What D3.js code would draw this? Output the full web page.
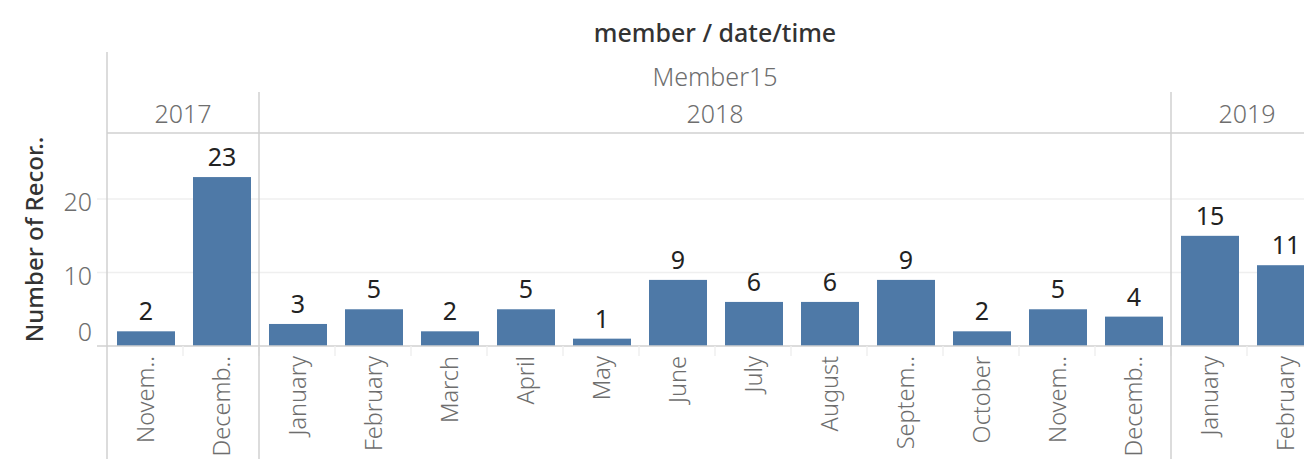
<!DOCTYPE html>
<html>
<head>
<meta charset="utf-8">
<script src="https://cdn.jsdelivr.net/npm/d3@7"></script>
<style>
  body { margin: 0; background: #fff; }
  text { font-family: "Noto Sans", "Open Sans", sans-serif; }
</style>
</head>
<body>
<svg id="chart"></svg>
<script>
// data
var years = ["2017", "2018", "2019"];
var monthYears = ["2017", "2017", "2018", "2018", "2018", "2018", "2018", "2018",
  "2018", "2018", "2018", "2018", "2018", "2018", "2019", "2019"];
var monthLabels = ["Novem..", "Decemb..", "January", "February", "March", "April", "May",
  "June", "July", "August", "Septem..", "October", "Novem..", "Decemb..", "January", "February"];
var counts = [2, 23, 3, 5, 2, 5, 1, 9, 6, 6, 9, 2, 5, 4, 15, 11];
var yTicks = [0, 10, 20];

var width = 1304, height = 459;
var paneLeft = 107, paneTop = 133, base = 346, colW = 76;
var fontSize = 25;

var svg = d3.select("#chart")
  .attr("width", width)
  .attr("height", height);

var col = d3.scaleBand()
  .domain(d3.range(counts.length))
  .range([paneLeft, paneLeft + colW * counts.length]);

var y = d3.scaleLinear()
  .domain([0, 29])
  .range([base, paneTop]);

var gridColor = "#efefef", lineColor = "#d0d0d0", labelColor = "#6e6e6e";

// gridlines
svg.append("g").selectAll("line")
  .data(yTicks.filter(function (d) { return d > 0; }))
  .enter().append("line")
  .attr("x1", 97).attr("x2", width)
  .attr("y1", function (d) { return y(d); })
  .attr("y2", function (d) { return y(d); })
  .attr("stroke", gridColor)
  .attr("stroke-width", 1.5);

// y tick labels
svg.append("g").selectAll("text")
  .data(yTicks)
  .enter().append("text")
  .attr("x", 92)
  .attr("y", function (d) { return d == 0 ? y(d) - 5 : y(d) + 12; })
  .attr("text-anchor", "end")
  .attr("font-size", fontSize)
  .attr("font-weight", 300)
  .attr("fill", labelColor)
  .text(function (d) { return d; });

// y axis title
svg.append("text")
  .attr("transform", "translate(43," + ((paneTop + base) / 2) + ") rotate(-90)")
  .attr("text-anchor", "middle")
  .attr("font-size", fontSize - 1)
  .attr("font-weight", 500)
  .attr("fill", "#333")
  .text("Number of Recor..");

// bars
var pad = 10, barW = 58;
svg.append("g").selectAll("rect")
  .data(counts)
  .enter().append("rect")
  .attr("x", function (d, i) { return col(i) + pad; })
  .attr("width", barW)
  .attr("y", function (d) { return y(d); })
  .attr("height", function (d) { return base - y(d); })
  .attr("fill", "#4e79a7");

// value labels
svg.append("g").selectAll("text")
  .data(counts)
  .enter().append("text")
  .attr("x", function (d, i) { return col(i) + pad + barW / 2; })
  .attr("y", function (d) { return y(d) - 11; })
  .attr("text-anchor", "middle")
  .attr("font-size", fontSize)
  .attr("fill", "#222")
  .text(function (d) { return d; });

// baseline
svg.append("line")
  .attr("x1", 97).attr("x2", width)
  .attr("y1", base).attr("y2", base)
  .attr("stroke", lineColor).attr("stroke-width", 1.5);

// small separators under the baseline
svg.append("g").selectAll("line")
  .data(d3.range(1, counts.length))
  .enter().append("line")
  .attr("x1", function (i) { return col(i); })
  .attr("x2", function (i) { return col(i); })
  .attr("y1", base).attr("y2", base + 10)
  .attr("stroke", gridColor).attr("stroke-width", 1.5);

// month labels (rotated)
svg.append("g").selectAll("text")
  .data(monthLabels)
  .enter().append("text")
  .attr("transform", function (d, i) {
    return "translate(" + (col(i) + colW / 2 + 9) + "," + (base + 10) + ") rotate(-90)";
  })
  .attr("text-anchor", "end")
  .attr("font-size", 23.5)
  .attr("font-weight", 300)
  .attr("fill", labelColor)
  .text(function (d) { return d; });

// year spans
var spans = years.map(function (yr) {
  var idx = d3.range(counts.length).filter(function (i) { return monthYears[i] == yr; });
  return { year: yr, x0: col(idx[0]), x1: col(idx[idx.length - 1]) + col.bandwidth() };
});

// header bottom line
svg.append("line")
  .attr("x1", paneLeft).attr("x2", width)
  .attr("y1", paneTop).attr("y2", paneTop)
  .attr("stroke", lineColor).attr("stroke-width", 1.5);

// year separators
svg.append("g").selectAll("line")
  .data(spans.slice(1))
  .enter().append("line")
  .attr("x1", function (d) { return d.x0; })
  .attr("x2", function (d) { return d.x0; })
  .attr("y1", 92).attr("y2", height)
  .attr("stroke", lineColor).attr("stroke-width", 1.5);

// left border
svg.append("line")
  .attr("x1", paneLeft).attr("x2", paneLeft)
  .attr("y1", 52).attr("y2", height)
  .attr("stroke", lineColor).attr("stroke-width", 1.5);

// year labels
svg.append("g").selectAll("text")
  .data(spans)
  .enter().append("text")
  .attr("x", function (d) { return (d.x0 + d.x1) / 2; })
  .attr("y", 123)
  .attr("text-anchor", "middle")
  .attr("font-size", fontSize)
  .attr("font-weight", 300)
  .attr("fill", labelColor)
  .text(function (d) { return d.year; });

// member header
svg.append("text")
  .attr("x", (paneLeft + paneLeft + colW * counts.length) / 2)
  .attr("y", 86)
  .attr("text-anchor", "middle")
  .attr("font-size", fontSize)
  .attr("font-weight", 300)
  .attr("fill", labelColor)
  .text("Member15");

// title
svg.append("text")
  .attr("x", (paneLeft + paneLeft + colW * counts.length) / 2)
  .attr("y", 42)
  .attr("text-anchor", "middle")
  .attr("font-size", fontSize)
  .attr("font-weight", 500)
  .attr("fill", "#333")
  .text("member / date/time");
</script>
</body>
</html>
